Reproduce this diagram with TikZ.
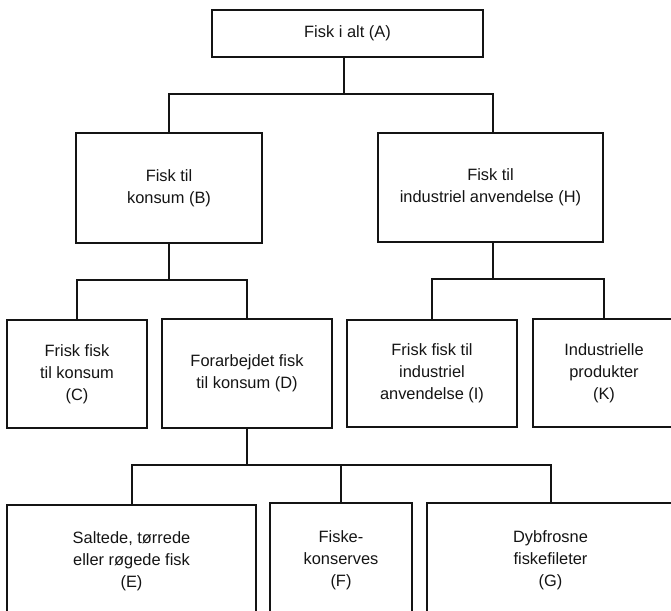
\documentclass[tikz,border=0pt]{standalone}
\usepackage{fontspec}
\setmainfont{Liberation Sans}
\definecolor{fskInk}{HTML}{141414}
\tikzset{
  fsk box/.style={draw=fskInk, line width=2.2pt, rectangle, inner sep=0pt, align=center,
    font=\fontsize{16.4}{22}\selectfont, text=fskInk},
  fsk line/.style={draw=fskInk, line width=2pt, line cap=rect},
}

\begin{document}
\begin{tikzpicture}[x=1pt,y=-1pt]
  \useasboundingbox (0,0) rectangle (671,610);
  \clip (0,0) rectangle (671,610);
  % boxes
  \node[fsk box, minimum width=271pt, minimum height=47pt] (A) at (347.5,33.5) {Fisk i alt (A)};
  \node[fsk box, minimum width=186pt, minimum height=110pt] (B) at (169,188) {Fisk til\\konsum (B)};
  \node[fsk box, minimum width=225pt, minimum height=109pt] (H) at (490.5,187.5) {Fisk til\\industriel anvendelse (H)};
  \node[fsk box, minimum width=140pt, minimum height=108pt] (C) at (77,374) {Frisk fisk\\til konsum\\(C)};
  \node[fsk box, minimum width=170pt, minimum height=109pt] (D) at (247,373.5) {Forarbejdet fisk\\til konsum (D)};
  \node[fsk box, minimum width=170pt, minimum height=107pt] (I) at (432,373.5) {Frisk fisk til\\industriel\\anvendelse (I)};
  \node[fsk box, minimum width=142pt, minimum height=108pt] (K) at (604,373) {Industrielle\\produkter\\(K)};
  \node[fsk box, minimum width=249pt, minimum height=113pt] (E) at (131.5,561.5) {Saltede, t\o rrede\\eller r\o gede fisk\\(E)};
  \node[fsk box, minimum width=142pt, minimum height=115pt] (F) at (341,560.5) {Fiske-\\konserves\\(F)};
  \node[fsk box, minimum width=247pt, minimum height=115pt] (G) at (550.5,560.5) {Dybfrosne\\fiskefileter\\(G)};
  % bus points
  \coordinate (busA) at (344,94);
  \coordinate (busB) at (170,280);
  \coordinate (busH) at (493,279);
  \coordinate (busD) at (247,465);
  % connectors
  \draw[fsk line] (busA |- A.south) -- (busA);
  \draw[fsk line] (B.north) |- (busA) -| (busH |- H.north);
  \draw[fsk line] (B.south) -- (B.south |- busB);
  \draw[fsk line] (C.north) |- (busB) -| (D.north);
  \draw[fsk line] (busH |- H.south) -- (busH);
  \draw[fsk line] (I.north) |- (busH) -| (K.north);
  \draw[fsk line] (D.south) -- (busD);
  \draw[fsk line] (E.north) |- (busD) -| (G.north);
  \draw[fsk line] (F.north) -- (F.north |- busD);
\end{tikzpicture}
\end{document}
